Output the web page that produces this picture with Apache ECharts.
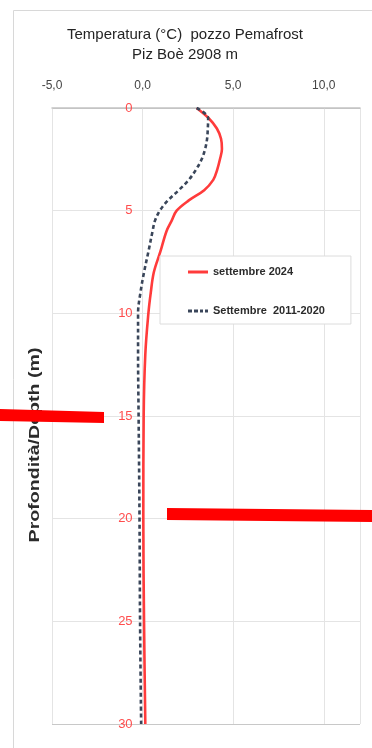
<!DOCTYPE html>
<html>
<head>
<meta charset="utf-8">
<script src="https://cdn.jsdelivr.net/npm/echarts@6/dist/echarts.min.js"></script>
<style>
  html, body { margin: 0; padding: 0; background: #fff; }
  #chart { width: 372px; height: 748px; }
</style>
</head>
<body>
<div id="chart"></div>
<script>
// Depth below surface (m)
const depth = [0, 0.5, 1, 1.5, 2, 2.5, 3, 3.5, 4, 4.5, 5, 5.5, 6, 7, 8, 9, 10, 12, 15, 20, 25, 30];
// Borehole temperature (°C), September 2024
const sett2024 = [2.98, 3.65, 4.1, 4.33, 4.38, 4.27, 4.12, 3.9, 3.4, 2.55, 1.88, 1.6, 1.32, 0.98, 0.62, 0.45, 0.32, 0.15, 0.06, 0.04, 0.08, 0.15];
// Borehole temperature (°C), September mean 2011-2020
const sett2011_2020 = [2.98, 3.62, 3.6, 3.56, 3.45, 3.26, 2.95, 2.55, 2.0, 1.4, 0.95, 0.68, 0.55, 0.32, 0.08, -0.12, -0.25, -0.25, -0.22, -0.17, -0.14, -0.08];
// Labelled ticks
const tempTicks = [-5, 0, 5, 10];
const depthTicks = [0, 5, 10, 15, 20, 25, 30];

const seriesNames = ['settembre 2024', 'Settembre  2011-2020'];

const W = 372;
const gridLeft = 52, gridRight = 12;
const xMin = -5, xMax = 12;
// shift the depth axis so it sits on the 0 °C line
const zeroOffset = (W - gridLeft - gridRight) * (0 - xMin) / (xMax - xMin);

const chart = echarts.init(document.getElementById('chart'), null, { renderer: 'canvas' });

const pairs = (temps) => temps.map((t, i) => [t, depth[i]]);

chart.setOption({
  backgroundColor: '#ffffff',
  animation: false,
  grid: { left: gridLeft, right: gridRight, top: 108, bottom: 24, containLabel: false, outerBoundsMode: 'none' },
  xAxis: {
    type: 'value',
    position: 'top',
    min: xMin,
    max: xMax,
    interval: 5,
    axisLine: { show: true, onZero: false, lineStyle: { color: '#c4c4c4', width: 1.5 } },
    axisTick: { show: false },
    axisLabel: {
      margin: 16,
      color: '#444',
      fontSize: 12,
      fontFamily: 'Liberation Sans',
      formatter: (v) => tempTicks.includes(v) ? v.toFixed(1).replace('.', ',') : ''
    },
    splitLine: { show: true, lineStyle: { color: '#e4e4e4', width: 1 } }
  },
  yAxis: {
    type: 'value',
    inverse: true,
    position: 'left',
    offset: -zeroOffset,
    min: depthTicks[0],
    max: depthTicks[depthTicks.length - 1],
    interval: 5,
    axisLine: { show: false, onZero: false },
    axisTick: { show: false },
    axisLabel: {
      margin: 10,
      color: '#ff4d4d',
      fontSize: 13,
      fontFamily: 'Liberation Sans',
      formatter: (v) => depthTicks.includes(v) ? String(v) : ''
    },
    splitLine: {
      show: true,
      lineStyle: { color: ['#c4c4c4', '#e4e4e4', '#e4e4e4', '#e4e4e4', '#e4e4e4', '#e4e4e4', '#c8c8c8'], width: 1.2 }
    }
  },
  legend: {
    orient: 'vertical',
    left: 160,
    top: 256,
    padding: [9, 26, 6, 28],
    itemGap: 25,
    itemWidth: 20,
    itemHeight: 3,
    backgroundColor: '#ffffff',
    borderColor: '#dcdcdc',
    borderWidth: 1,
    textStyle: { color: '#2b2b2b', fontSize: 11, fontWeight: 'bold', fontFamily: 'Liberation Sans', lineHeight: 14 },
    data: [
      { name: seriesNames[0], icon: 'path://M0,0h20v3h-20z' },
      { name: seriesNames[1], icon: 'path://M0,0h4v3h-4z M6,0h4v3h-4z M12,0h3v3h-3z M17,0h3v3h-3z' }
    ]
  },
  series: [
    {
      name: seriesNames[0],
      type: 'line',
      data: pairs(sett2024),
      smooth: 0.35,
      symbol: 'none',
      lineStyle: { color: '#ff3b3b', width: 2.6 },
      itemStyle: { color: '#ff3b3b' },
      z: 3
    },
    {
      name: seriesNames[1],
      type: 'line',
      data: pairs(sett2011_2020),
      smooth: 0.35,
      symbol: 'none',
      lineStyle: { color: '#3a465a', width: 2.6, type: [4, 3] },
      itemStyle: { color: '#3a465a' },
      z: 4
    }
  ],
  graphic: [
    {
      type: 'rect',
      silent: true,
      z: -10,
      shape: { x: 13.5, y: 10.5, width: 420, height: 800 },
      style: { fill: 'none', stroke: '#d8d8d8', lineWidth: 1 }
    },
    {
      type: 'text',
      x: 185, y: 35,
      style: {
        text: 'Temperatura (°C)  pozzo Pemafrost',
        font: '15px "Liberation Sans"',
        fill: '#242424',
        align: 'center',
        verticalAlign: 'middle'
      }
    },
    {
      type: 'text',
      x: 185, y: 55,
      style: {
        text: 'Piz Boè 2908 m',
        font: '15px "Liberation Sans"',
        fill: '#242424',
        align: 'center',
        verticalAlign: 'middle'
      }
    },
    {
      type: 'text',
      x: 35, y: 445,
      rotation: Math.PI / 2,
      scaleX: 1.4,
      style: {
        text: 'Profondità/Depth (m)',
        font: 'bold 14px "Liberation Sans"',
        fill: '#2b2b2b',
        align: 'center',
        verticalAlign: 'middle'
      }
    },
    {
      type: 'polygon',
      z: 100,
      silent: true,
      shape: { points: [[0, 409], [104, 412], [104, 423], [0, 421]] },
      style: { fill: '#ff0000' }
    },
    {
      type: 'polygon',
      z: 100,
      silent: true,
      shape: { points: [[167, 508], [372, 510], [372, 522], [167, 520]] },
      style: { fill: '#ff0000' }
    }
  ]
});
</script>
</body>
</html>
